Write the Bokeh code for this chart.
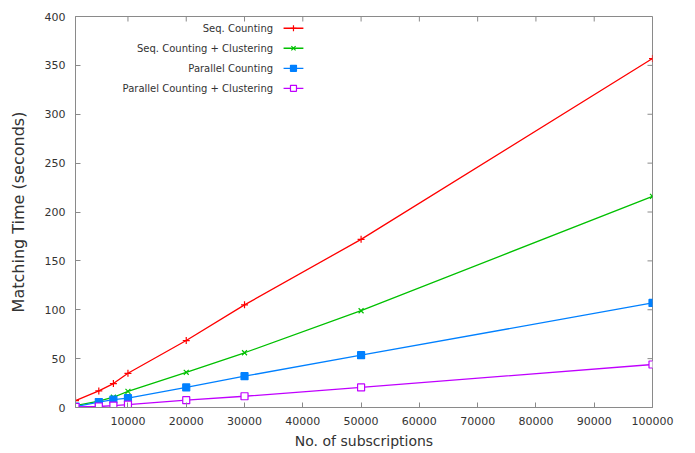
from bokeh.plotting import figure
from bokeh.models import FixedTicker, Label, Range1d, NumeralTickFormatter
from bokeh.embed import file_html
from bokeh.resources import INLINE

subscriptions = [1000, 5000, 7500, 10000, 20000, 30000, 50000, 100000]
seq_counting = [7, 17, 24.5, 35, 68.5, 105, 172, 357]
seq_clustering = [2, 6.5, 10.5, 16.5, 36, 56, 99, 216]
par_counting = [1, 5.5, 8, 9.5, 20.5, 32, 53.5, 107]
par_clustering = [0.5, 1, 2, 3, 7.5, 11.5, 20.5, 44]

series_names = ["Seq. Counting", "Seq. Counting + Clustering",
                "Parallel Counting", "Parallel Counting + Clustering"]
series_values = [seq_counting, seq_clustering, par_counting, par_clustering]
colors = ["#ff0000", "#00c000", "#0080ff", "#c000ff"]
markers = ["cross", "x", "square", "square"]
filled = [True, True, True, False]

x_ticks = [10000, 20000, 30000, 40000, 50000, 60000, 70000, 80000, 90000, 100000]
y_ticks = [0, 50, 100, 150, 200, 250, 300, 350, 400]

FONT = "DejaVu Sans"
GRAY = "#8a8a8a"
TXT = "#333333"
X0, X1, Y0, Y1 = 1000, 100000, 0, 400

p = figure(width=695, height=453, output_backend="svg", toolbar_location=None,
           x_range=Range1d(X0, X1), y_range=Range1d(Y0, Y1),
           min_border_left=75, min_border_right=43, min_border_top=16, min_border_bottom=46)
p.grid.visible = False
p.outline_line_color = GRAY
p.background_fill_color = "white"
p.border_fill_color = "white"

for ax in p.xaxis + p.yaxis:
    ax.major_tick_in = 5
    ax.major_tick_out = 0
    ax.minor_tick_in = 0
    ax.minor_tick_out = 0
    ax.axis_line_color = GRAY
    ax.major_tick_line_color = GRAY
    ax.major_label_text_font = FONT
    ax.major_label_text_font_size = "11px"
    ax.major_label_text_color = TXT
    ax.axis_label_text_font = FONT
    ax.axis_label_text_font_style = "normal"
    ax.axis_label_text_color = TXT

p.xaxis.ticker = FixedTicker(ticks=x_ticks)
p.yaxis.ticker = FixedTicker(ticks=y_ticks)
p.xaxis.formatter = NumeralTickFormatter(format="0")
p.xaxis.axis_label = "No. of subscriptions"
p.yaxis.axis_label = "Matching Time (seconds)"
p.xaxis.axis_label_text_font_size = "14px"
p.yaxis.axis_label_text_font_size = "16px"
p.xaxis.major_label_standoff = 9
p.yaxis.major_label_standoff = 10
p.yaxis.axis_label_standoff = 14
p.xaxis.axis_label_standoff = 5

# mirrored inward ticks on top and right (gnuplot style)
frame_w, frame_h = 695 - 75 - 43, 453 - 16 - 46
dy = 5 * (Y1 - Y0) / frame_h
dx = 5 * (X1 - X0) / frame_w
p.segment(x0=x_ticks, y0=[Y1] * len(x_ticks), x1=x_ticks, y1=[Y1 - dy] * len(x_ticks),
          line_color=GRAY, line_width=1)
p.segment(x0=[X1] * len(y_ticks), y0=y_ticks, x1=[X1 - dx] * len(y_ticks), y1=y_ticks,
          line_color=GRAY, line_width=1)

for vals, c, m, f in zip(series_values, colors, markers, filled):
    p.line(subscriptions, vals, line_color=c, line_width=1.3)
    p.scatter(subscriptions, vals, marker=m, size=7, line_color=c,
              fill_color=c if f else "white", line_width=1.2)

# legend (gnuplot style: right-aligned text, sample to the right)
leg_rows_y = [388, 367.5, 347, 326.5]
text_x = 34900
s0, s1 = 36700, 40100
for name, yv, c, m, f in zip(series_names, leg_rows_y, colors, markers, filled):
    p.add_layout(Label(x=text_x, y=yv, text=name, text_align="right", text_baseline="middle",
                       text_font=FONT, text_font_size="10px", text_color=TXT))
    p.line([s0, s1], [yv, yv], line_color=c, line_width=1.3)
    p.scatter([(s0 + s1) / 2], [yv], marker=m, size=6, line_color=c,
              fill_color=c if f else "white", line_width=1.2)

open("out.html", "w").write(file_html(p, INLINE))
